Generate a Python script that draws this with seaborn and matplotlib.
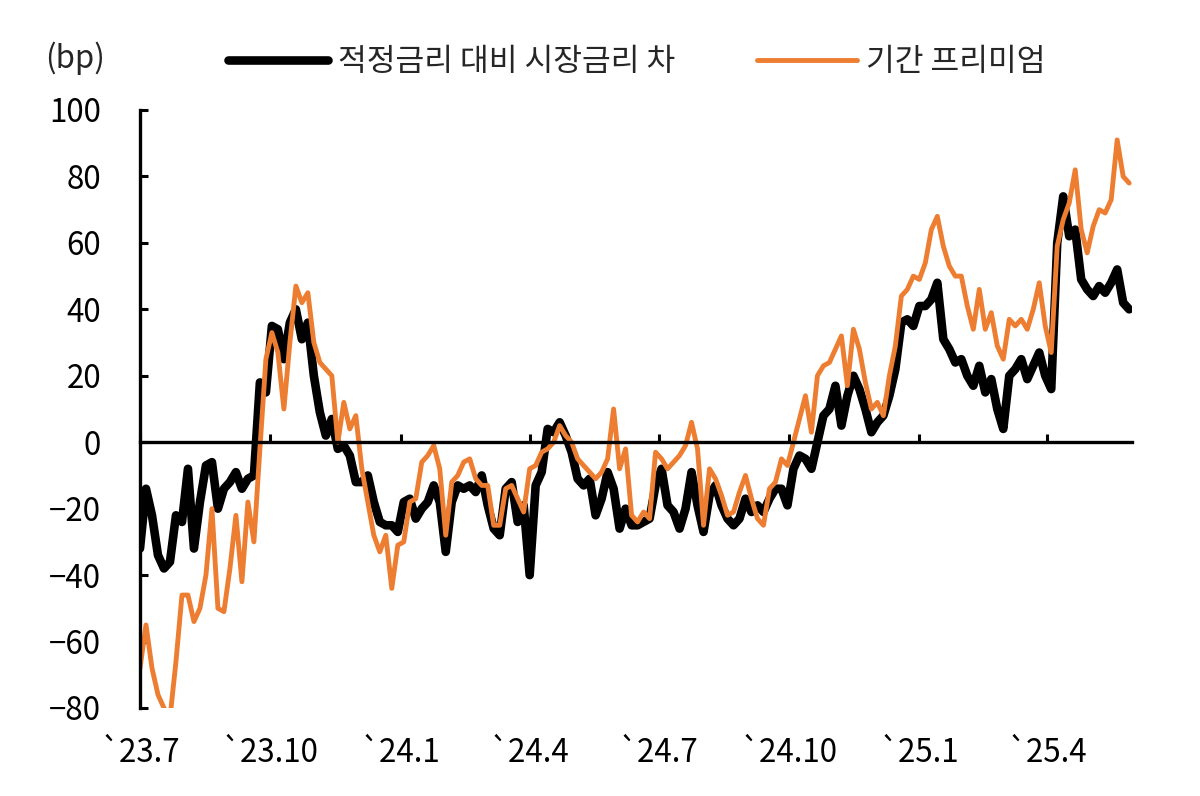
import numpy as np
import pandas as pd
import matplotlib
matplotlib.use("Agg")
import matplotlib.pyplot as plt
import seaborn as sns

# ---- data (bp) ----
start_date = "2023-07-01"
end_date = "2025-05-29"

gap_label = "적정금리 대비 시장금리 차"
premium_label = "기간 프리미엄"

gap_values = [
    -32, -14, -22, -34, -38, -36, -22, -24, -8, -32,
    -18, -7, -6, -20, -14, -12, -9, -14, -11, -10,
    18, 15, 35, 34, 25, 36, 40, 31, 36, 20,
    9, 2, 7, -2, -1, -4, -12, -12, -10, -18,
    -24, -25, -25, -27, -18, -17, -23, -20, -18, -13,
    -18, -33, -18, -13, -14, -13, -15, -10, -19, -26,
    -28, -14, -12, -24, -19, -40, -13, -9, 4, 3,
    6, 2, -3, -11, -13, -11, -22, -17, -9, -14,
    -26, -20, -25, -25, -24, -23, -13, -8, -19, -21,
    -26, -20, -9, -19, -27, -16, -13, -19, -23, -25,
    -23, -17, -21, -19, -21, -17, -14, -14, -19, -8,
    -4, -5, -8, 0, 8, 10, 17, 5, 14, 20,
    16, 10, 3, 6, 8, 14, 22, 36, 37, 35,
    41, 41, 43, 48, 31, 28, 24, 25, 20, 17,
    23, 15, 19, 10, 4, 20, 22, 25, 19, 23,
    27, 20, 16, 60, 74, 62, 64, 49, 46, 44,
    47, 45, 48, 52, 42, 40,
]

premium_values = [
    -68, -55, -68, -76, -80, -83, -66, -46, -46, -54,
    -50, -40, -20, -50, -51, -38, -22, -42, -18, -30,
    -2, 25, 33, 27, 10, 30, 47, 42, 45, 30,
    24, 22, 20, 0, 12, 4, 8, -8, -18, -28,
    -33, -28, -44, -31, -30, -18, -17, -6, -4, -1,
    -8, -28, -12, -10, -6, -5, -11, -13, -13, -25,
    -25, -14, -13, -17, -21, -8, -7, -3, -2, 0,
    5, 2, 0, -5, -7, -9, -11, -9, -5, 10,
    -8, -2, -22, -24, -21, -23, -3, -5, -8, -6,
    -4, -1, 6, -2, -25, -8, -11, -16, -22, -21,
    -15, -10, -17, -23, -25, -14, -12, -5, -7, 0,
    7, 14, 3, 20, 23, 24, 28, 32, 17, 34,
    28, 18, 10, 12, 8, 20, 29, 44, 46, 50,
    49, 54, 64, 68, 59, 53, 50, 50, 41, 34,
    46, 34, 39, 29, 25, 37, 35, 37, 34, 40,
    48, 35, 27, 59, 67, 72, 82, 64, 57, 65,
    70, 69, 73, 91, 80, 78,
]

tick_dates = ["2023-07-01", "2023-10-01", "2024-01-01", "2024-04-01",
              "2024-07-01", "2024-10-01", "2025-01-01", "2025-04-01"]
tick_labels = ["`23.7", "`23.10", "`24.1", "`24.4",
               "`24.7", "`24.10", "`25.1", "`25.4"]
y_ticks = [-80, -60, -40, -20, 0, 20, 40, 60, 80, 100]

# ---- frame ----
dates = pd.date_range(start_date, end_date, periods=len(gap_values))
df = pd.DataFrame({"date": dates, "gap": gap_values, "premium": premium_values})

sns.set_style("white")
plt.rcParams["font.family"] = ["Noto Sans CJK KR", "DejaVu Sans"]
plt.rcParams["axes.unicode_minus"] = True

FS = 22.5
W, H = 1200, 796
fig = plt.figure(figsize=(W / 100, H / 100), dpi=100)
ax = fig.add_axes([140 / W, 1 - 708 / H, (1132 - 140) / W, (708 - 110) / H])

sns.lineplot(data=df, x="date", y="gap", ax=ax, color="black", lw=6.2,
             label=gap_label, solid_joinstyle="round", solid_capstyle="round")
sns.lineplot(data=df, x="date", y="premium", ax=ax, color="#ED7D31", lw=3.5,
             label=premium_label, solid_joinstyle="round", solid_capstyle="round")

ax.set_ylim(-80, 100)
ax.set_xlim(pd.Timestamp("2023-07-01"), pd.Timestamp("2025-05-31"))
ax.set_yticks(y_ticks)
ax.set_xticks(pd.to_datetime(tick_dates))
ax.set_xticklabels(tick_labels)
ax.set_xlabel("")
ax.set_ylabel("")

for s in ["top", "right"]:
    ax.spines[s].set_visible(False)
ax.spines["bottom"].set_position(("data", 0))
ax.spines["bottom"].set_linewidth(2.4)
ax.spines["left"].set_linewidth(2.4)
ax.spines["bottom"].set_color("black")
ax.spines["left"].set_color("black")

ax.tick_params(axis="y", left=True, direction="in", length=6, width=2.2, pad=28,
               labelsize=FS, colors="black")
ax.tick_params(axis="x", bottom=True, direction="in", length=6, width=2.2, pad=212,
               labelsize=FS, colors="black")

fig.text(45 / W, 1 - 58 / H, "(bp)", fontsize=FS, va="center", ha="left")

ax.legend(ncol=2, loc="center", bbox_to_anchor=(637 / W, 1 - 62 / H),
          bbox_transform=fig.transFigure, frameon=False, fontsize=FS,
          handlelength=3.2, handletextpad=0.32, columnspacing=2.6)

fig.savefig("out.png", dpi=100)
